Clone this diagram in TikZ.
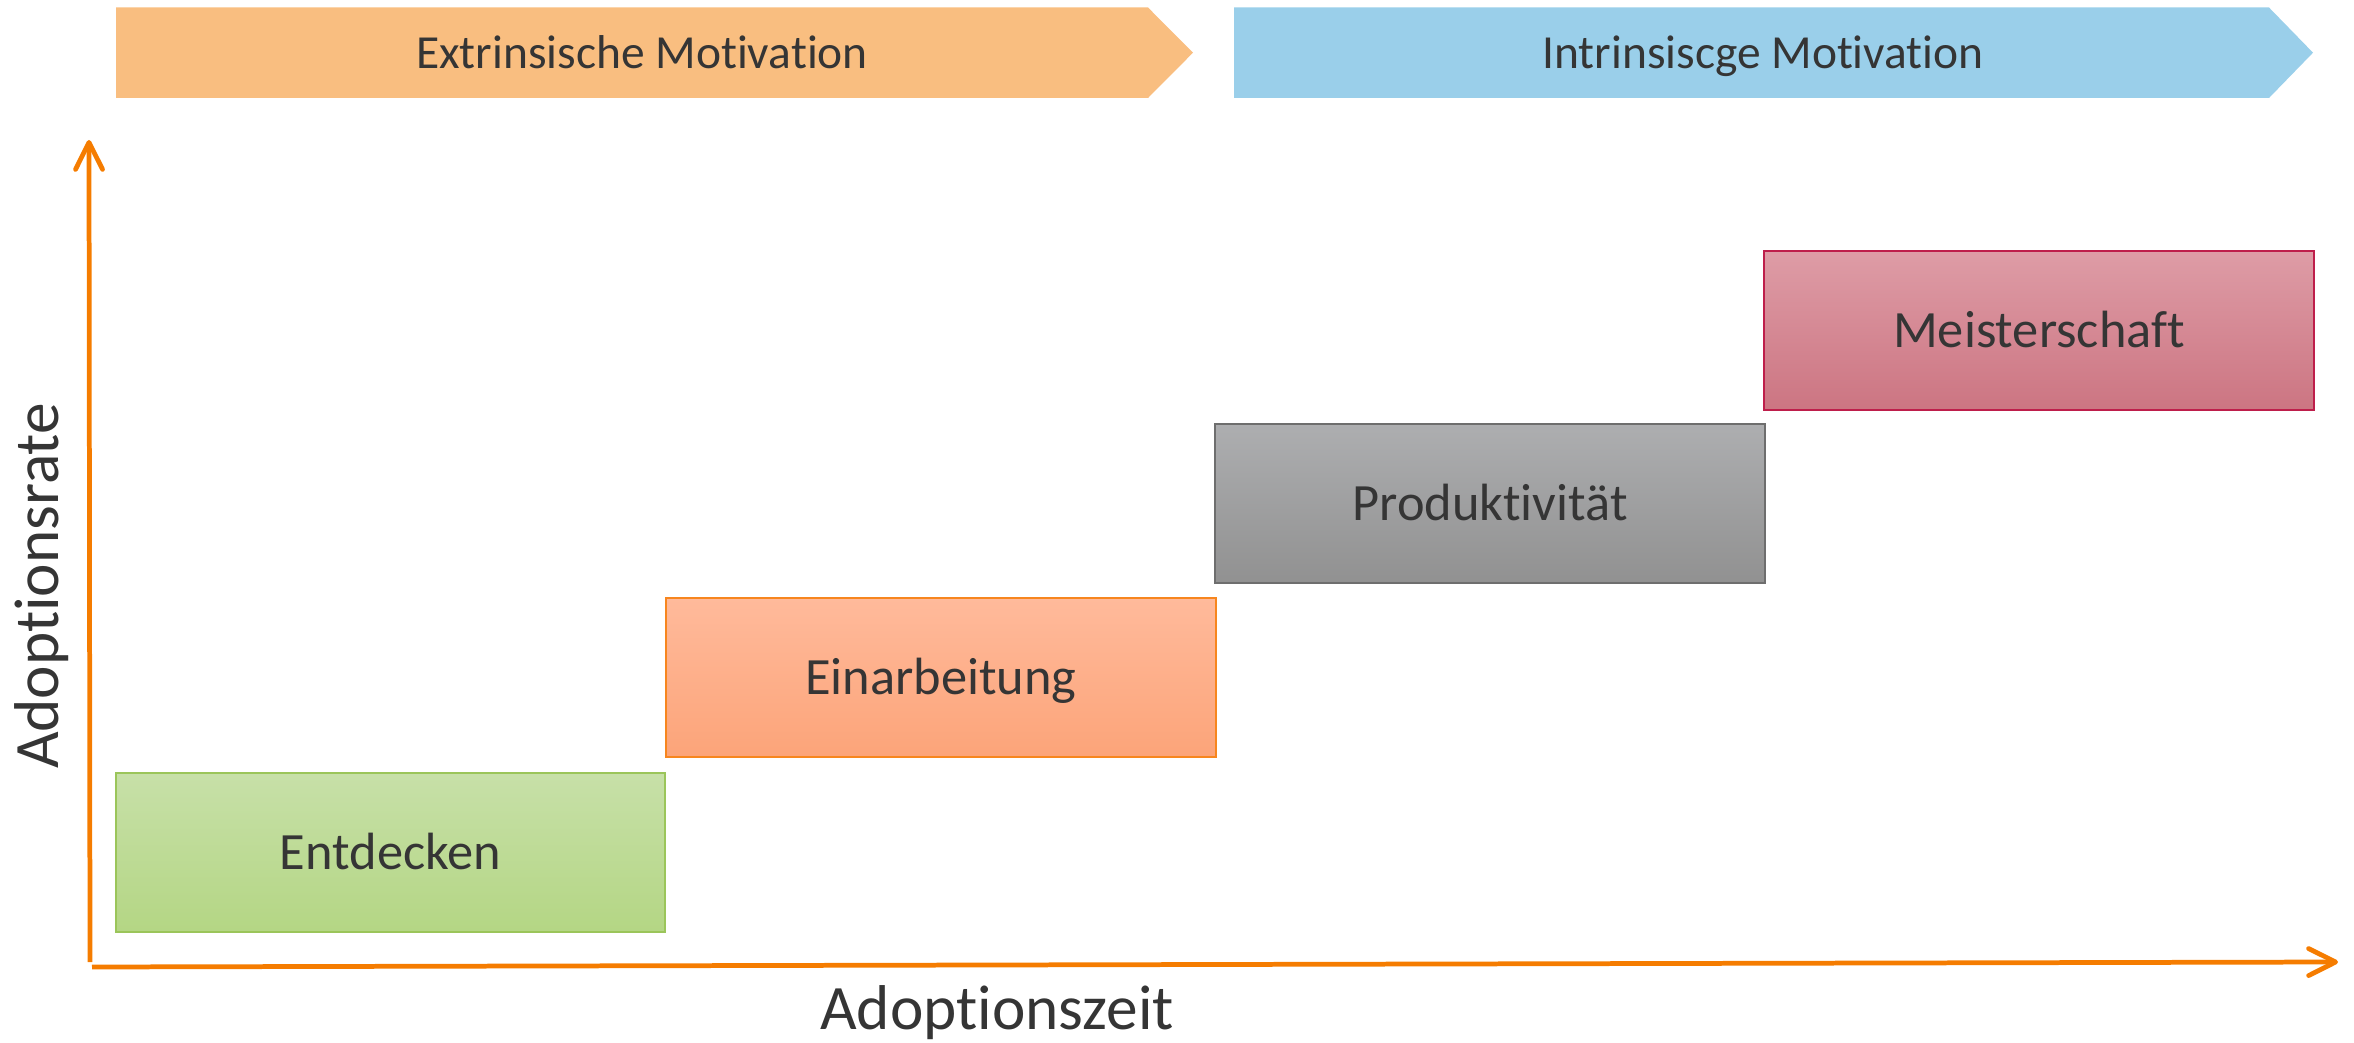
\documentclass[tikz,border=0pt]{standalone}
\usepackage{fontspec}
\setmainfont{Carlito}[Ligatures={NoCommon}]
\usetikzlibrary{arrows.meta}

\definecolor{txt}{HTML}{353535}
\definecolor{axisorange}{HTML}{F57C00}
\definecolor{extrfill}{HTML}{F9BE80}
\definecolor{intrfill}{HTML}{9ACFEA}
\definecolor{greenTop}{HTML}{C7E0A8}
\definecolor{greenBot}{HTML}{B4D684}
\definecolor{greenLine}{HTML}{9BC55A}
\definecolor{peachTop}{HTML}{FFBA9B}
\definecolor{peachBot}{HTML}{FCA479}
\definecolor{peachLine}{HTML}{F7861E}
\definecolor{grayTop}{HTML}{ADAEB0}
\definecolor{grayBot}{HTML}{919191}
\definecolor{grayLine}{HTML}{6E6E6E}
\definecolor{roseTop}{HTML}{DE9CA6}
\definecolor{roseBot}{HTML}{CC7582}
\definecolor{roseLine}{HTML}{BE1E4B}

\tikzset{
  stagebox/.style={draw, line width=0.6pt, minimum width=5.49cm, minimum height=1.59cm,
    inner sep=0pt, text height=0.34cm, text depth=0pt, text=txt,
    font=\fontsize{14.9pt}{17pt}\selectfont},
  bannertext/.style={text=txt, inner sep=0pt, anchor=base, font=\fontsize{13.5pt}{16pt}\selectfont},
  axislabel/.style={text=txt, inner sep=0pt, font=\fontsize{18pt}{21pt}\selectfont},
  axisline/.style={draw=axisorange, line width=1.35pt,
    -{Straight Barb[length=2.7mm,width=2.7mm,round]}},
}

\begin{document}
\begin{tikzpicture}[x=0.01cm,y=-0.01cm]
\useasboundingbox (0,0) rectangle (2354,1043);

% motivation banners
\fill[extrfill] (116,7.5) -- (1148,7.5) -- (1193,52.7) -- (1148,98) -- (116,98) -- cycle;
\node[bannertext] (extr) at (642,69) {Extrinsische Motivation};
\fill[intrfill] (1234,7.5) -- (2269,7.5) -- (2313,52.7) -- (2269,98) -- (1234,98) -- cycle;
\node[bannertext] (intr) at (1763,69) {Intrinsiscge Motivation};

% axes
\coordinate (yfoot) at (90,962);
\coordinate (ytip) at (89,140);
\coordinate (xfoot) at (92,967);
\coordinate (xtip) at (2338,962);
\draw[axisline] (yfoot) -- (ytip);
\draw[axisline] (xfoot) -- (xtip);

\node[axislabel, rotate=90] (rate) at (42,586) {Adoptionsrate};
\node[axislabel, anchor=base] (zeit) at (997,1029) {Adoptionszeit};

% adoption stages
\node[stagebox, draw=greenLine, top color=greenTop, bottom color=greenBot]
  (s1) at (390.5,852.5) {Entdecken};
\node[stagebox, draw=peachLine, top color=peachTop, bottom color=peachBot]
  (s2) at (941,677.5) {Einarbeitung};
\node[stagebox, draw=grayLine, top color=grayTop, bottom color=grayBot]
  (s3) at (1490,503.5) {Produktivität};
\node[stagebox, draw=roseLine, top color=roseTop, bottom color=roseBot]
  (s4) at (2039,330.5) {Meisterschaft};
\end{tikzpicture}
\end{document}
